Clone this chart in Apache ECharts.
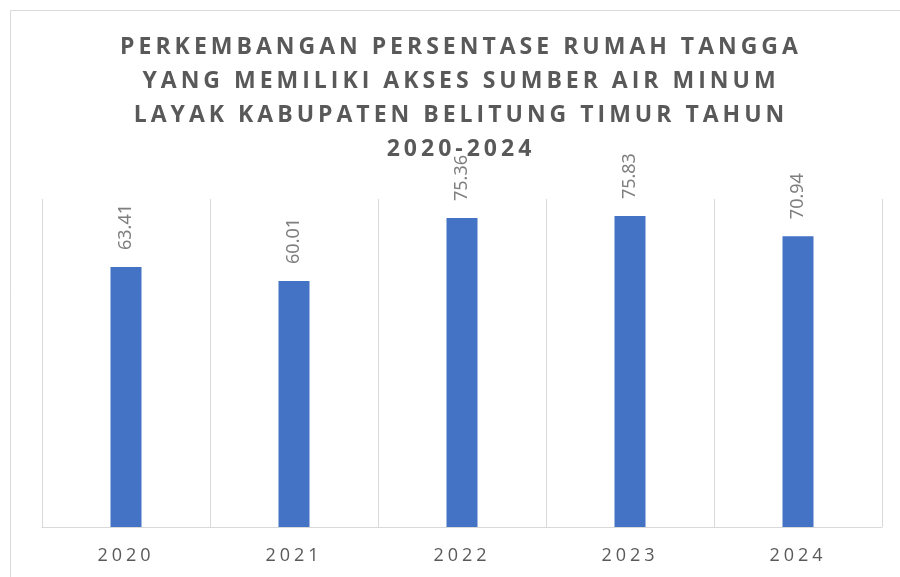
<!DOCTYPE html>
<html>
<head>
<meta charset="utf-8">
<script src="https://cdn.jsdelivr.net/npm/echarts@6/dist/echarts.min.js"></script>
<style>
    html, body { margin: 0; padding: 0; background: #fff; }
    #chart { width: 900px; height: 577px; }
</style>
</head>
<body>
<div id="chart"></div>
<script>
var years = ['2020', '2021', '2022', '2023', '2024'];
var persen = [63.41, 60.01, 75.36, 75.83, 70.94];
var judul = 'PERKEMBANGAN PERSENTASE RUMAH TANGGA\nYANG MEMILIKI AKSES SUMBER AIR MINUM\nLAYAK KABUPATEN BELITUNG TIMUR TAHUN\n2020-2024';

// judul & label sumbu pakai huruf renggang (letter-spacing), label nilai tidak
var ctxProto = CanvasRenderingContext2D.prototype;
var oldFillText = ctxProto.fillText;
ctxProto.fillText = function () {
    this.letterSpacing = this.font.indexOf('Open Sans') >= 0 ? '4px' : '0px';
    return oldFillText.apply(this, arguments);
};

var chart = echarts.init(document.getElementById('chart'));
var option = {
    animation: false,
    graphic: [{
        type: 'rect',
        left: 8,
        top: 8,
        shape: { width: 900, height: 577 },
        style: { fill: 'none', stroke: '#d9d9d9', lineWidth: 1 },
        silent: true
    }],
    title: {
        text: judul,
        left: 461,
        textAlign: 'center',
        top: 30,
        padding: 0,
        textStyle: {
            fontFamily: 'Open Sans',
            fontWeight: 'bold',
            fontSize: 23,
            lineHeight: 34,
            color: '#595959'
        }
    },
    grid: {
        left: 42,
        right: 18,
        top: 199,
        bottom: 50
    },
    xAxis: {
        type: 'category',
        data: years,
        axisLine: { lineStyle: { color: '#d9d9d9', width: 1 } },
        axisTick: { show: false },
        axisLabel: {
            fontFamily: 'Open Sans',
            fontSize: 18,
            color: '#595959',
            margin: 20
        },
        splitLine: { show: true, lineStyle: { color: '#d9d9d9', width: 1 } }
    },
    yAxis: {
        type: 'value',
        min: 0,
        max: 80,
        show: false,
        splitLine: { show: false }
    },
    series: [{
        type: 'bar',
        data: persen,
        barWidth: 31,
        itemStyle: { color: '#4472C4' },
        label: {
            show: true,
            position: 'top',
            rotate: 90,
            align: 'left',
            verticalAlign: 'middle',
            distance: 17,
            fontFamily: 'Noto Sans',
            fontSize: 18,
            color: '#7f7f7f',
            formatter: function (p) { return p.value.toFixed(2); }
        }
    }]
};
chart.setOption(option);
</script>
</body>
</html>
